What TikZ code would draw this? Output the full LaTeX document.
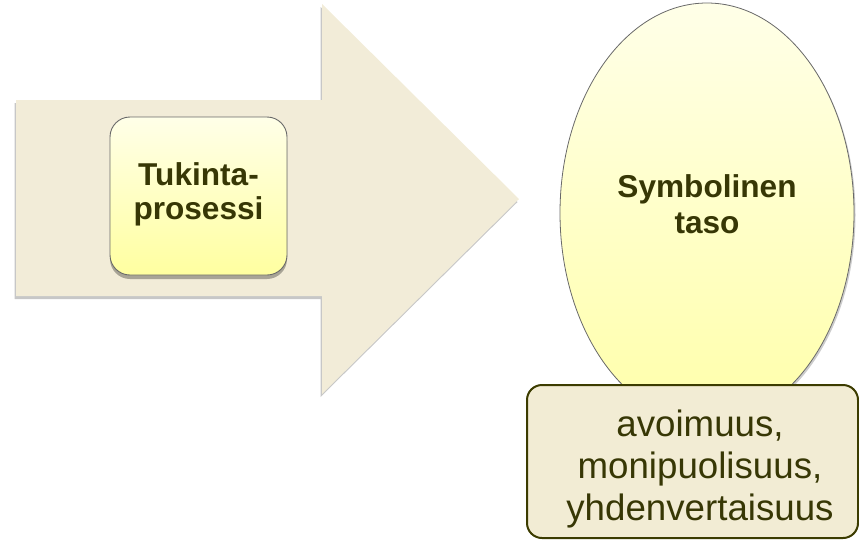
\documentclass[tikz,border=0pt]{standalone}
\usepackage{fontspec}
\setmainfont{Liberation Sans}
\usetikzlibrary{shapes.geometric,shadows}
\definecolor{arrowfill}{RGB}{242,236,216}
\definecolor{boxfill}{RGB}{242,236,212}
\definecolor{olive}{RGB}{60,60,0}
\definecolor{txt}{RGB}{55,55,5}
\definecolor{yelltop}{RGB}{255,255,232}
\definecolor{yellbot}{RGB}{255,255,160}
\definecolor{graybd}{RGB}{105,105,105}
\tikzset{
  bigarrow/.style={fill=arrowfill, draw=none,
    drop shadow={shadow xshift=-1.5pt, shadow yshift=-3pt, opacity=0.22, fill=black}},
  procbox/.style={rectangle, rounded corners=20pt, draw=graybd, line width=0.9pt,
    top color=yelltop, bottom color=yellbot, inner sep=0pt,
    drop shadow={shadow xshift=0pt, shadow yshift=-4pt, opacity=0.3, fill=black}},
  egg/.style={ellipse, draw=graybd, line width=0.8pt, inner sep=0pt,
    top color=yelltop, bottom color=yellbot!90!white,
    drop shadow={shadow xshift=1.5pt, shadow yshift=-2pt, opacity=0.2, fill=black}},
  basebox/.style={draw=olive, line width=2pt, fill=boxfill, rounded corners=15pt},
  boldtxt/.style={text=txt, align=center, inner sep=0pt,
    font=\fontsize{31.6}{34}\selectfont\bfseries},
  regtxt/.style={text=txt, align=center, inner sep=0pt,
    font=\fontsize{36.7}{42.5}\selectfont}
}
\begin{document}
\begin{tikzpicture}[x=1pt,y=-1pt]
\useasboundingbox (0,0) rectangle (859,539);
% big arrow
\path[bigarrow] (16,100) -- (322,100) -- (322,4) -- (519,199) -- (322,394)
  -- (322,296) -- (16,296) -- cycle;
% process box
\node[procbox, minimum width=177pt, minimum height=158pt] (tuk) at (198.5,196) {};
\node[boldtxt] (tuktxt) at (198.5,194.5) {Tukinta-\\prosessi};
% ellipse
\node[egg, minimum width=294pt, minimum height=420pt] (sym) at (707,213) {};
\node[boldtxt, font=\fontsize{31.6}{36}\selectfont\bfseries] (symtxt) at (707,204) {Symbolinen\\taso};
% base box
\path[basebox] (527,385) rectangle (858,538);
\coordinate (basec) at (700,469);
\node[regtxt] (basetxt) at (basec) {avoimuus,\\monipuolisuus,\\yhdenvertaisuus};
\end{tikzpicture}
\end{document}
